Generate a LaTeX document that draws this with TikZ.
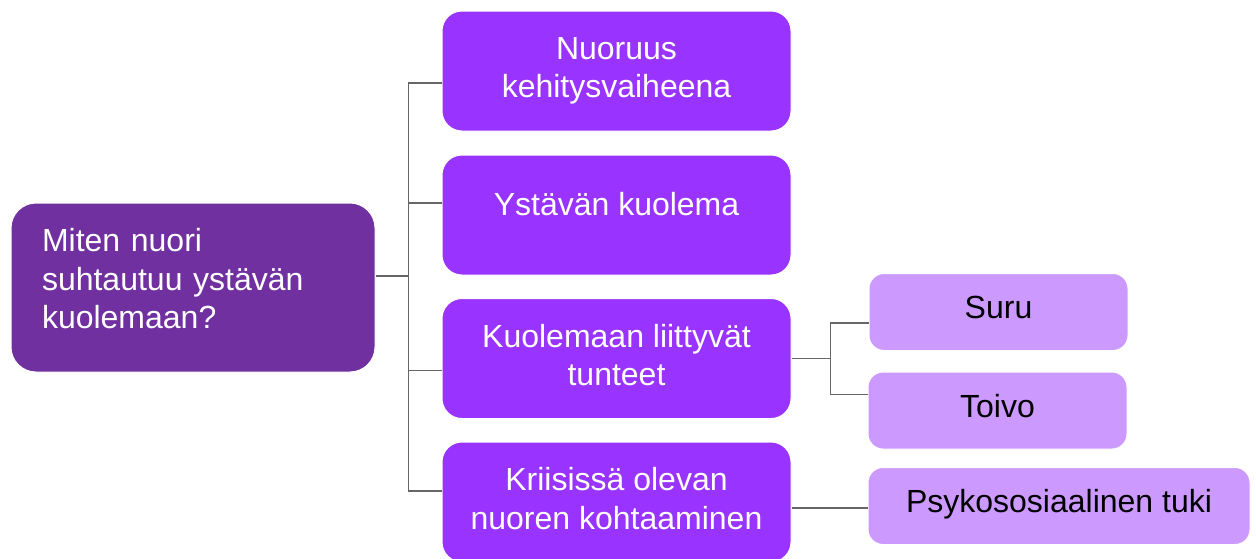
\documentclass[tikz,border=0pt]{standalone}
\usepackage{fontspec}
\setmainfont{Liberation Sans}
\usepackage{xcolor}
\usepackage{tikz}
\definecolor{rootpurple}{HTML}{7030A0}
\definecolor{topicpurple}{HTML}{9933FF}
\definecolor{subpurple}{HTML}{CC99FF}
\definecolor{linkgray}{HTML}{666666}
\tikzset{
  rootbox/.style={draw=white, line width=1pt, rounded corners=25pt, fill=rootpurple, text=white, align=left, text width=302pt, inner xsep=31pt, inner ysep=0pt, minimum height=169pt},
  topic/.style={draw=white, line width=1pt, rounded corners=20pt, fill=topicpurple, text=white, align=center, inner sep=0pt, minimum width=349pt, minimum height=120pt, text depth=7pt},
  subtopic/.style={draw=white, line width=1pt, rounded corners=15pt, fill=subpurple, text=black, align=center, inner sep=0pt, minimum height=77pt, text depth=10pt},
  link/.style={draw=linkgray, line width=1.3pt}
}

\begin{document}
\begin{tikzpicture}[x=1pt, y=-1pt, font=\fontsize{32}{38.5}\selectfont]
  \useasboundingbox (0,0) rectangle (1256,558);

  \node[rootbox, text depth=95pt] (question) at (193,287.5) {Miten nuori\\suhtautuu ystävän\\kuolemaan?};
  \node[topic] (youth) at (616.5,71) {Nuoruus\\kehitysvaiheena};
  \node[topic, text depth=22.5pt] (death) at (616.5,215) {Ystävän kuolema};
  \node[topic] (feelings) at (616.5,358.5) {Kuolemaan liittyvät\\tunteet};
  \node[topic] (crisis) at (616.5,502) {Kriisissä olevan\\nuoren kohtaaminen};
  \node[subtopic, minimum width=259pt] (grief) at (998.5,312) {Suru};
  \node[subtopic, minimum width=259pt] (hope) at (997.5,410.5) {Toivo};
  \node[subtopic, minimum width=382pt] (support) at (1059,506) {Psykososiaalinen tuki};

  \coordinate (hub) at ([xshift=33pt, yshift=11.5pt]question.east);
  \coordinate (split) at ([xshift=39pt]feelings.east);

  \draw[link] ([yshift=11.5pt]question.east) -- (hub);
  \draw[link] ([yshift=-12pt]youth.west) -| (hub);
  \draw[link] ([yshift=12pt]death.west) -| (hub);
  \draw[link] ([yshift=-12pt]feelings.west) -| (hub);
  \draw[link] ([yshift=11pt]crisis.west) -| (hub);
  \draw[link] (feelings.east) -- (split);
  \draw[link] ([yshift=-11pt]grief.west) -| (split);
  \draw[link] ([yshift=16pt]hope.west) -| (split);
  \draw[link] ([yshift=-6pt]crisis.east) -- ([yshift=-2pt]support.west);
\end{tikzpicture}
\end{document}
